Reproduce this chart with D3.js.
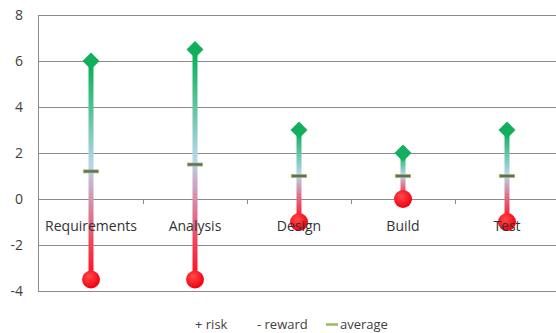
<!DOCTYPE html>
<html>
<head>
<meta charset="utf-8">
<script src="https://cdn.jsdelivr.net/npm/d3@7"></script>
<style>
  body { margin: 0; background: #fff; }
  text { font-family: "Open Sans", "Liberation Sans", sans-serif; }
</style>
</head>
<body>
<svg id="chart"></svg>
<script>
// chart data
var categories = ["Requirements", "Analysis", "Design", "Build", "Test"];
var riskValues = [6, 6.5, 3, 2, 3];
var rewardValues = [-3.5, -3.5, -1, 0, -1];
var averageValues = [1.2, 1.5, 1, 1, 1];
var yTicks = [-4, -2, 0, 2, 4, 6, 8];
var legendLabels = ["+ risk", "- reward", "average"];

var width = 556, height = 333;
var margin = { left: 39, right: -3, top: 15, bottom: 42 };
var innerW = width - margin.left - margin.right;
var innerH = height - margin.top - margin.bottom;

var svg = d3.select("#chart")
    .attr("width", width)
    .attr("height", height);

var defs = svg.append("defs");
var grad = defs.append("linearGradient")
    .attr("id", "stem")
    .attr("x1", 0).attr("y1", 0).attr("x2", 0).attr("y2", 1);
grad.append("stop").attr("offset", "0%").attr("stop-color", "#00b050");
grad.append("stop").attr("offset", "48%").attr("stop-color", "#b8d6ea");
grad.append("stop").attr("offset", "72%").attr("stop-color", "#e0708c");
grad.append("stop").attr("offset", "100%").attr("stop-color", "#ff0a1a");

var ball = defs.append("radialGradient")
    .attr("id", "ball")
    .attr("cx", "40%").attr("cy", "35%").attr("r", "65%");
ball.append("stop").attr("offset", "0%").attr("stop-color", "#ff4a4a");
ball.append("stop").attr("offset", "100%").attr("stop-color", "#f00010");

var g = svg.append("g")
    .attr("transform", "translate(" + margin.left + "," + margin.top + ")");

var x = d3.scaleBand()
    .domain(categories)
    .range([0, innerW]);

var y = d3.scaleLinear()
    .domain([-4, 8])
    .range([innerH, 0]);

// y gridlines
g.append("g")
    .selectAll("line")
    .data(yTicks).enter()
    .append("line")
    .attr("x1", 0).attr("x2", innerW)
    .attr("y1", d => y(d) + 0.5).attr("y2", d => y(d) + 0.5)
    .attr("stroke", "#8c8c8c")
    .attr("stroke-width", 1);

// y axis line
g.append("line")
    .attr("x1", -0.5).attr("x2", -0.5)
    .attr("y1", y(8)).attr("y2", y(-4) + 1)
    .attr("stroke", "#8c8c8c");

// y tick labels
g.append("g")
    .selectAll("text")
    .data(yTicks).enter()
    .append("text")
    .attr("x", -16)
    .attr("y", d => y(d))
    .attr("dy", "0.35em")
    .attr("text-anchor", "end")
    .attr("fill", "#404040")
    .style("font-size", "14px")
    .text(d => d);

// category ticks at zero line
g.append("g")
    .selectAll("line")
    .data(categories.slice(1)).enter()
    .append("line")
    .attr("x1", d => Math.round(x(d)) + 0.5).attr("x2", d => Math.round(x(d)) + 0.5)
    .attr("y1", y(0)).attr("y2", y(0) + 5)
    .attr("stroke", "#8c8c8c");

// stems
var cx = i => x(categories[i]) + x.bandwidth() / 2;
g.append("g")
    .selectAll("rect")
    .data(categories).enter()
    .append("rect")
    .attr("x", (d, i) => cx(i) - 2.5)
    .attr("y", (d, i) => y(riskValues[i]))
    .attr("width", 5)
    .attr("height", (d, i) => y(rewardValues[i]) - y(riskValues[i]))
    .attr("fill", "url(#stem)");

// reward circles
g.append("g")
    .selectAll("circle")
    .data(rewardValues).enter()
    .append("circle")
    .attr("cx", (d, i) => cx(i))
    .attr("cy", d => y(d))
    .attr("r", 9)
    .attr("fill", "url(#ball)");

// risk diamonds
g.append("g")
    .selectAll("path")
    .data(riskValues).enter()
    .append("path")
    .attr("transform", (d, i) => "translate(" + cx(i) + "," + y(d) + ")")
    .attr("d", "M0,-8.5L8.5,0L0,8.5L-8.5,0Z")
    .attr("fill", "#12b05c");

// average markers
g.append("g")
    .selectAll("rect")
    .data(averageValues).enter()
    .append("rect")
    .attr("x", (d, i) => cx(i) - 7.5)
    .attr("y", d => y(d) - 1.5)
    .attr("width", 15)
    .attr("height", 3)
    .attr("fill", "#5f6a6a")
    .attr("stroke", "#9bbb59")
    .attr("stroke-width", 0.8);

// category labels (drawn over the markers)
g.append("g")
    .selectAll("text")
    .data(categories).enter()
    .append("text")
    .attr("x", d => x(d) + x.bandwidth() / 2)
    .attr("y", y(0) + 27)
    .attr("dy", "0.35em")
    .attr("text-anchor", "middle")
    .attr("fill", "#333")
    .style("font-size", "14px")
    .text(d => d);

// legend
var legend = svg.append("g").attr("class", "legend");
var legendX = [195, 257, 340];
legend.selectAll("text")
    .data(legendLabels).enter()
    .append("text")
    .attr("x", (d, i) => legendX[i])
    .attr("y", 324)
    .attr("dy", "0.35em")
    .attr("fill", "#404040")
    .style("font-size", "13px")
    .text(d => d);
legend.append("line")
    .attr("x1", 326).attr("x2", 338)
    .attr("y1", 324.5).attr("y2", 324.5)
    .attr("stroke", "#9bbb59")
    .attr("stroke-width", 2.5);
</script>
</body>
</html>
